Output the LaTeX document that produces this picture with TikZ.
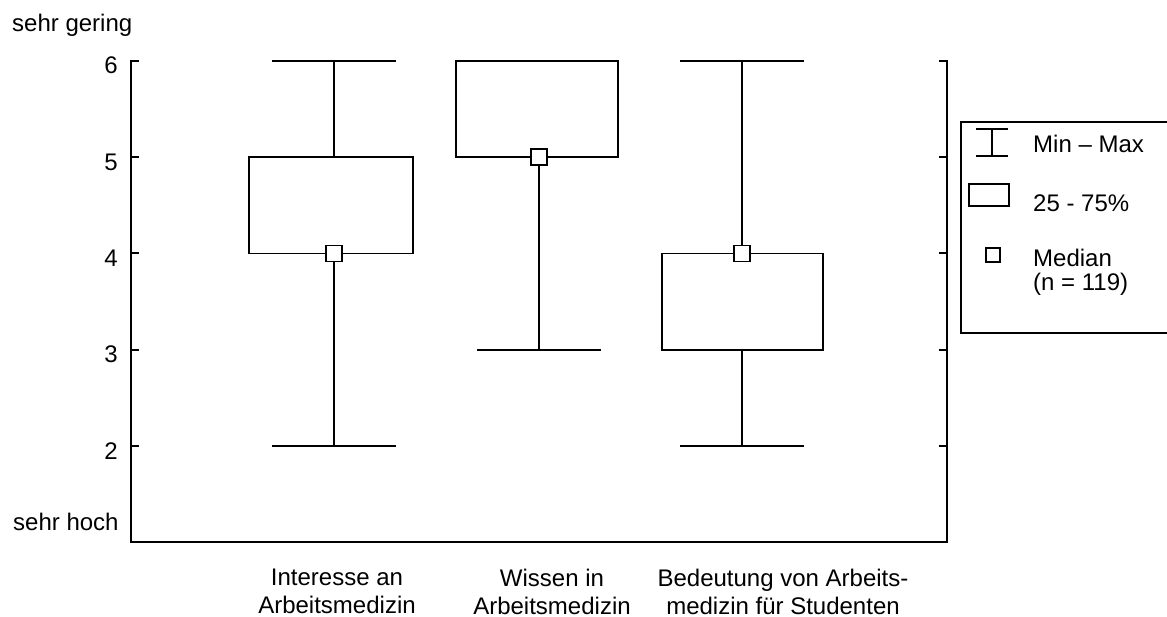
\documentclass[tikz,border=0pt]{standalone}
\usepackage{fontspec}
\setmainfont{Liberation Sans}
\usetikzlibrary{positioning}

\begin{document}
\begin{tikzpicture}[x=1pt, y=-1pt,
    axis/.style={line width=2pt},
    boxline/.style={line width=1.6pt},
    whisker/.style={line width=1.4pt},
    median/.style={draw, line width=1.6pt, fill=white, minimum size=16pt, inner sep=0pt},
    txt/.style={font=\fontsize{24}{27.6}\selectfont, inner sep=0pt},
  ]
  \useasboundingbox (0,0) rectangle (1167,617);

  % Axes
  \draw[axis] (139,61) -- (131,61) -- (131,542) -- (947,542) -- (947,61) -- (939,61);
  \foreach \y in {157.25,253.5,349.75,446} {
    \draw[axis] (131,\y) -- (139,\y);
    \draw[axis] (947,\y) -- (939,\y);
  }

  % Scale labels
  \foreach \v/\y in {6/61,5/157.25,4/253.5,3/349.75,2/446}
    \node[txt, anchor=base east] (val\v) at (118,\y+13) {\v};
  \node[txt, anchor=base west] (gering) at (12,32) {sehr gering};
  \node[txt, anchor=base west] (hoch) at (13,530) {sehr hoch};

  % Interesse an Arbeitsmedizin
  \draw[boxline] (249,157.25) rectangle (413,253.5);
  \coordinate (max1) at (334,61);
  \coordinate (min1) at (334,446);
  \draw[whisker] (max1) -- (334,157.25);
  \draw[boxline] ([xshift=-62pt]max1) -- ([xshift=62pt]max1);
  \draw[boxline] ([xshift=-62pt]min1) -- ([xshift=62pt]min1);
  \node[median] (med1) at (334,253.5) {};
  \draw[whisker] (med1) -- (min1);

  % Wissen in Arbeitsmedizin
  \draw[boxline] (456,61) rectangle (618,157.25);
  \coordinate (min2) at (539,349.75);
  \draw[boxline] ([xshift=-62pt]min2) -- ([xshift=62pt]min2);
  \node[median] (med2) at (539,157.25) {};
  \draw[whisker] (med2) -- (min2);

  % Bedeutung von Arbeitsmedizin
  \draw[boxline] (662,253.5) rectangle (823,349.75);
  \coordinate (max3) at (742,61);
  \coordinate (min3) at (742,446);
  \draw[whisker] (742,349.75) -- (min3);
  \draw[boxline] ([xshift=-62pt]max3) -- ([xshift=62pt]max3);
  \draw[boxline] ([xshift=-62pt]min3) -- ([xshift=62pt]min3);
  \node[median] (med3) at (742,253.5) {};
  \draw[whisker] (med3) -- (max3);

  % Category labels
  \node[txt, align=center, anchor=north] (catA) at (337,569) {Interesse an\\Arbeitsmedizin};
  \node[txt, align=center, anchor=north] (catB) at (552,569) {Wissen in\\Arbeitsmedizin};
  \node[txt, align=center, anchor=north] (catC) at (783,569) {Bedeutung von Arbeits-\\medizin für Studenten};

  % Legend
  \draw[boxline] (1167,122) -- (961,122) -- (961,333) -- (1167,333);
  \draw[boxline] (976,129) -- (1008,129) (992,129) -- (992,156) (976,156) -- (1008,156);
  \node[txt, anchor=base west] (legRange) at (1033,153) {Min – Max};
  \draw[boxline] (969,184) rectangle (1009,206);
  \node[txt, anchor=base west] (legBox) at (1033,212) {25 - 75\%};
  \node[median, minimum size=14pt] (legMed) at (993,255) {};
  \node[txt, align=left, anchor=north west, font=\fontsize{24}{24}\selectfont] (legMedTxt) at (1033,249) {Median\\(n = 119)};
\end{tikzpicture}
\end{document}
